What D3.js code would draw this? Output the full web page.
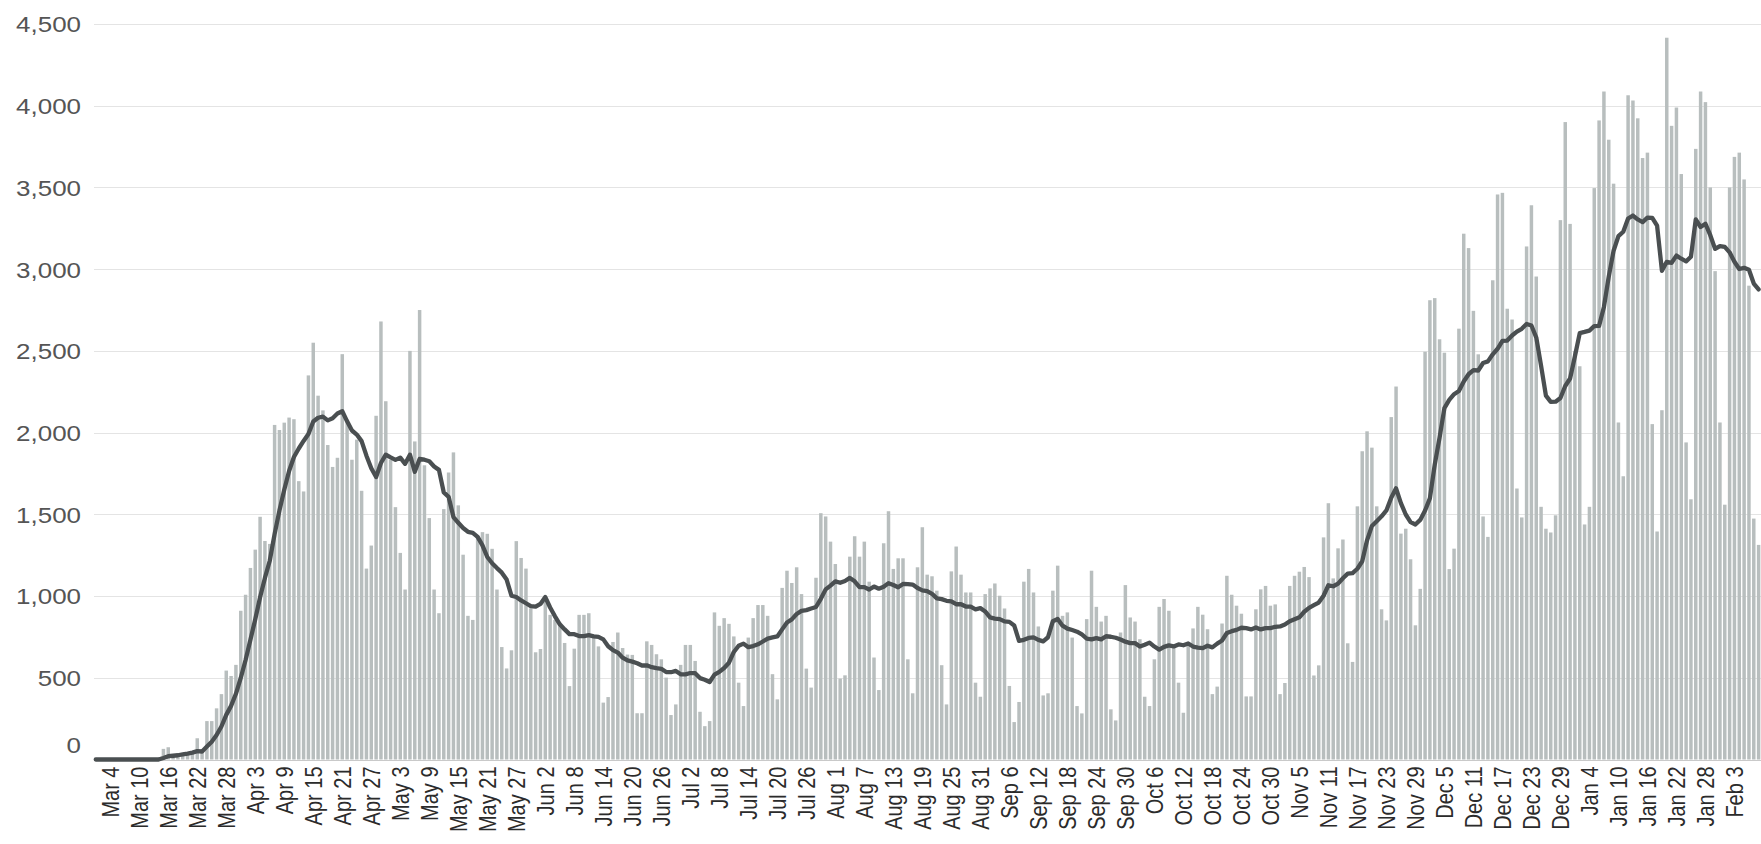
<!DOCTYPE html>
<html>
<head>
<meta charset="utf-8">
<script src="https://cdn.jsdelivr.net/npm/d3@7"></script>
<style>
  html, body { margin: 0; padding: 0; background: #fff; }
  svg { display: block; }
</style>
</head>
<body>
<svg id="chart" width="1761" height="844"></svg>
<script>
// ---- Data (daily values, starting 2020-03-01) ----
const startDate = "2020-03-01";

const casesMar = [0,0,0,0,0,0,0,0,0,0,0,0,0,0,65,75,20,25,30,35,45,130,55,235,235,313,400,544,511,579,910];
const casesApr = [1008,1172,1284,1485,1337,1319,2047,2016,2061,2092,2082,1703,1640,2350,2550,2226,2136,1924,1790,1846,2480,2080,1834,1957,1644,1168,1309,2103,2680,2192];
const casesMay = [1834,1544,1264,1040,2500,1946,2750,1800,1477,1040,895,1532,1756,1879,1555,1253,879,854,1360,1391,1381,1289,1040,688,557,668,1336,1233,1168,925,656];
const casesJun = [676,966,885,854,824,713,449,678,885,885,895,763,692,348,382,719,777,682,642,640,283,283,723,701,644,613,501,272,337,579];
const casesJul = [701,701,603,292,204,235,900,818,865,830,753,470,327,746,865,945,945,879,522,368,1050,1155,1080,1176,1012,556,440,1112,1507,1487,1333];
const casesAug = [1196,495,515,1241,1366,1241,1333,1088,624,425,1323,1519,1166,1231,1231,613,405,1176,1421,1131,1121,1033,577,337,1151,1303,1131,1022,1022,470,384];
const casesSep = [1012,1047,1077,1002,924,450,229,352,1088,1166,1022,814,392,405,1033,1186,879,900,746,327,282,859,1155,934,844,879,307,239,777,1067];
const casesOct = [869,844,736,384,327,613,934,982,910,695,470,286,695,802,934,886,797,400,446,832,1124,1008,941,892,386,386,919,1041,1062,941,949];
const casesNov = [400,468,1062,1124,1149,1178,1116,514,576,1359,1568,1108,1292,1346,711,597,1549,1886,2008,1908,1549,919,851,2095,2282,1382,1412,1225,821,1044];
const casesDec = [2495,2810,2823,2571,2489,1165,1290,2636,3217,3129,2745,2479,1487,1362,2932,3457,3467,2758,2692,1658,1481,3139,3391,2955,1546,1412,1389,1494,3300,3900,3277];
const casesJan = [2500,2406,1438,1546,3496,3910,4087,3792,3523,2062,1733,4064,4032,3923,3680,3713,2052,1395,2137,4416,3877,3989,3582,1940,1592,3736,4087,4022,3500,2988,2062];
const casesFeb = [1559,3500,3687,3713,3549,2899,1474,1313];

// 7-day average line
const avgMar = [0,0,0,0,0,0,0,0,0,0,0,0,0,0,9,20,23,26,31,36,42,51,49,79,109,150,202,273,328,402,499];
const avgApr = [609,732,858,993,1111,1216,1379,1523,1650,1765,1851,1903,1949,1992,2068,2091,2098,2075,2088,2117,2131,2069,2013,1988,1948,1859,1782,1728,1814,1865];
const avgMay = [1848,1833,1847,1809,1865,1760,1839,1834,1825,1793,1772,1634,1607,1483,1448,1416,1393,1387,1362,1310,1239,1201,1171,1143,1101,1002,994,973,956,939,935];
const avgJun = [952,994,930,876,827,796,767,767,755,755,761,753,750,735,693,669,654,623,606,599,589,575,576,565,559,555,535,534,542,521];
const avgJul = [521,529,528,498,488,474,519,536,560,592,658,696,709,687,694,705,722,740,747,753,796,838,857,890,909,914,924,933,983,1041,1064];
const avgAug = [1090,1081,1092,1111,1090,1055,1055,1040,1058,1045,1057,1079,1068,1054,1074,1073,1070,1049,1035,1030,1014,986,981,971,967,950,950,936,935,919,926];
const avgSep = [906,870,862,859,845,842,820,726,732,744,747,732,723,748,846,860,819,801,792,782,765,740,735,743,735,754,751,745,734,721];
const avgOct = [712,712,691,702,715,691,672,689,698,692,704,699,710,691,685,681,696,686,709,728,774,785,793,806,804,796,808,796,804,804,812];
const avgNov = [814,826,846,858,870,904,928,944,960,1002,1066,1060,1076,1109,1137,1140,1167,1213,1341,1429,1458,1488,1524,1602,1659,1569,1499,1452,1438,1466];
const avgDec = [1523,1598,1804,1970,2150,2200,2235,2255,2313,2357,2382,2380,2426,2436,2479,2513,2561,2563,2594,2618,2635,2665,2655,2582,2409,2226,2188,2189,2212,2285,2331];
const avgJan = [2467,2609,2616,2624,2652,2653,2769,2954,3113,3202,3229,3310,3328,3304,3288,3315,3314,3266,2990,3045,3039,3083,3064,3048,3076,3305,3258,3278,3208,3124,3141];
const avgFeb = [3136,3103,3045,3001,3008,2996,2912,2876];

const xTickLabels = ["Mar 4","Mar 10","Mar 16","Mar 22","Mar 28","Apr 3","Apr 9","Apr 15","Apr 21","Apr 27",
  "May 3","May 9","May 15","May 21","May 27","Jun 2","Jun 8","Jun 14","Jun 20","Jun 26",
  "Jul 2","Jul 8","Jul 14","Jul 20","Jul 26","Aug 1","Aug 7","Aug 13","Aug 19","Aug 25","Aug 31",
  "Sep 6","Sep 12","Sep 18","Sep 24","Sep 30","Oct 6","Oct 12","Oct 18","Oct 24","Oct 30",
  "Nov 5","Nov 11","Nov 17","Nov 23","Nov 29","Dec 5","Dec 11","Dec 17","Dec 23","Dec 29",
  "Jan 4","Jan 10","Jan 16","Jan 22","Jan 28","Feb 3"];
const yTicks = [0,500,1000,1500,2000,2500,3000,3500,4000,4500];

// ---- Build ----
const cases = [].concat(casesMar,casesApr,casesMay,casesJun,casesJul,casesAug,casesSep,casesOct,casesNov,casesDec,casesJan,casesFeb);
const avg = [].concat(avgMar,avgApr,avgMay,avgJun,avgJul,avgAug,avgSep,avgOct,avgNov,avgDec,avgJan,avgFeb);
const parse = d3.timeParse("%Y-%m-%d");
const start = parse(startDate);
const dates = cases.map((_, i) => d3.timeDay.offset(start, i));
const fmt = d3.timeFormat("%b %-d");

const svg = d3.select("#chart");
const W = 1761;

const x = d3.scaleBand().domain(d3.range(cases.length)).range([94, 94 + cases.length * 4.83]).paddingInner(0.28).paddingOuter(0);
const y = d3.scaleLinear().domain([0, 4500]).range([759.5, 24]);

const FONT = "'Liberation Sans', Arial, Helvetica, sans-serif";
const SX = 1.18;

// gridlines
svg.append("g").selectAll("line").data(yTicks).join("line")
  .attr("x1", 94).attr("x2", W)
  .attr("y1", d => Math.round(y(d)) + 0.5).attr("y2", d => Math.round(y(d)) + 0.5)
  .attr("stroke", d => d === 0 ? "#c9c9c9" : "#e4e4e4").attr("stroke-width", 1);

// bars
svg.append("g").selectAll("rect").data(cases).join("rect")
  .attr("x", (d, i) => x(i))
  .attr("width", x.bandwidth())
  .attr("y", d => y(d))
  .attr("height", d => y(0) - y(d))
  .attr("fill", "#b8bebe");

// line
const line = d3.line().x((d, i) => x(i) + x.bandwidth() / 2).y(d => y(d)).curve(d3.curveLinear);
svg.append("path").datum(avg).attr("d", line)
  .attr("fill", "none").attr("stroke", "#4a4f51").attr("stroke-width", 4.3)
  .attr("stroke-linejoin", "round").attr("stroke-linecap", "round");

// y axis
const yAxis = d3.axisLeft(y).tickValues(yTicks).tickSize(0).tickPadding(0).tickFormat(d3.format(","));
const gY = svg.append("g").attr("transform", "translate(81,0)").call(yAxis);
gY.select(".domain").remove();
gY.selectAll("text")
  .attr("x", 0).attr("dy", "0.36em")
  .attr("text-anchor", "end")
  .attr("transform", d => `translate(0,${d === 0 ? -15 : 0}) scale(${SX},1)`)
  .style("font-family", FONT).style("font-size", "22px").style("fill", "#555");

// x axis
const tickIdx = xTickLabels.map(l => dates.findIndex(d => fmt(d) === l));
const xAxis = d3.axisBottom(x).tickValues(tickIdx).tickSize(0).tickPadding(0).tickFormat((i, k) => xTickLabels[k]);
const gX = svg.append("g").attr("transform", `translate(0,${y(0)})`).call(xAxis);
gX.select(".domain").remove();
gX.selectAll("text")
  .attr("x", 0).attr("y", 0).attr("dy", "0.36em")
  .attr("text-anchor", "end")
  .attr("transform", `translate(0,7) scale(${SX},1) rotate(-90)`)
  .style("font-family", FONT).style("font-size", "20px").style("fill", "#2b2b2b");
</script>
</body>
</html>
